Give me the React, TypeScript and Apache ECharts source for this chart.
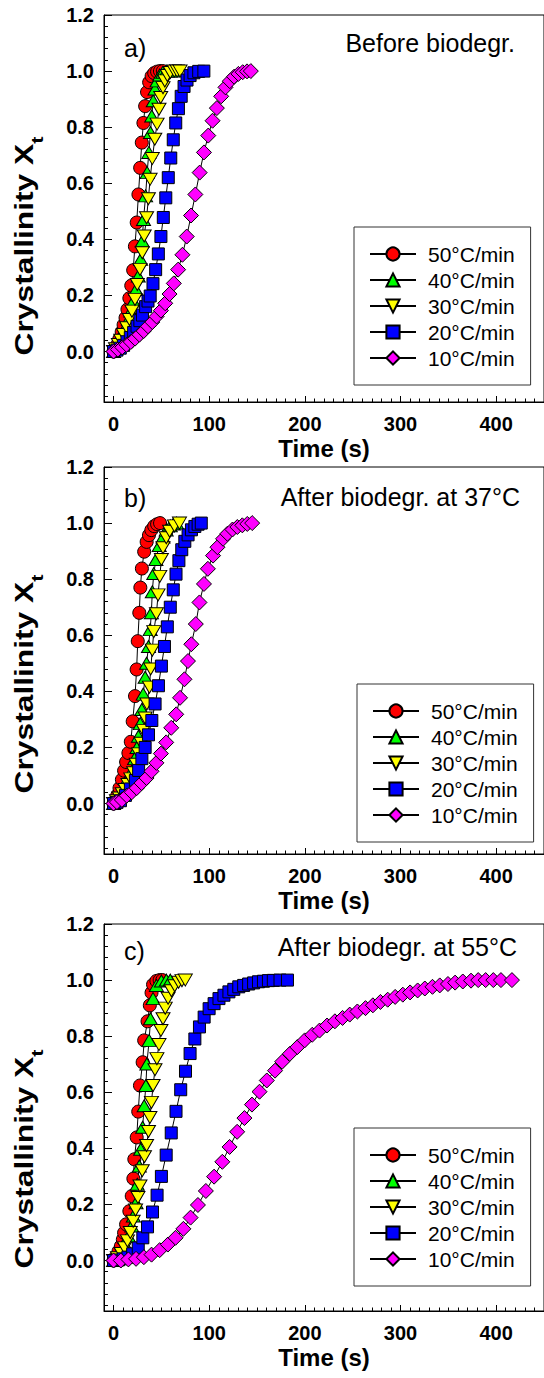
import React, { useEffect, useRef } from 'react';
import * as echarts from 'echarts';

const FONT = '"Liberation Sans", Arial, Helvetica, sans-serif';

// ---------- data ----------
const rateNames = ['50°C/min', '40°C/min', '30°C/min', '20°C/min', '10°C/min'];
const rateColors = ['#ff0000', '#00ff00', '#ffff00', '#0000ff', '#ff00ff'];
const xTickLabels = [0, 100, 200, 300, 400];
const yTickLabels = [0, 0.2, 0.4, 0.6, 0.8, 1.0, 1.2];
const panelLetters = ['a)', 'b)', 'c)'];
const panelNotes = ['Before biodegr.', 'After biodegr. at 37°C', 'After biodegr. at 55°C'];

// Panel a) before biodegradation  [time (s), Xt]
const a50 = [[0,0],[2,0.01],[4,0.025],[6,0.045],[8.5,0.07],[10.5,0.095],[12.5,0.12],[14.5,0.15],[16.5,0.19],[18.5,0.235],[20.5,0.29],[22.3,0.375],[24.2,0.46],[26,0.56],[27.8,0.655],[29.5,0.745],[31.2,0.815],[33,0.875],[35,0.925],[37.2,0.96],[39.8,0.982],[42.5,0.993],[45.5,0.998],[48.5,1.0],[51.5,1.0]];
const a40 = [[0,0],[2,0.008],[5,0.025],[8.5,0.06],[12,0.085],[15.5,0.114],[18,0.144],[20.7,0.18],[23.4,0.221],[25.8,0.269],[28.3,0.329],[30,0.394],[31.3,0.471],[33.5,0.555],[35.1,0.638],[36.9,0.71],[38.6,0.781],[39.9,0.84],[41.5,0.894],[43.3,0.936],[45.5,0.965],[48.2,0.986],[51.5,0.996],[55,1.0],[58.5,1.0],[62,1.0]];
const a30 = [[0,0],[2,0.01],[5,0.025],[7.5,0.04],[10.3,0.061],[13.8,0.085],[16.6,0.114],[19.2,0.144],[22.4,0.186],[24.8,0.239],[27.6,0.293],[30,0.352],[32,0.412],[34.5,0.477],[36.4,0.545],[38.2,0.614],[40.5,0.688],[43.1,0.757],[45.5,0.811],[47.5,0.864],[49.3,0.906],[51.7,0.941],[53.6,0.965],[56.2,0.984],[59.3,0.995],[63.5,1.0],[66.5,1.0],[69.5,1.0]];
const a20 = [[0,0],[3.5,0.005],[7,0.012],[10.5,0.022],[14,0.035],[17.5,0.05],[21,0.068],[24.5,0.09],[27.5,0.11],[30.2,0.13],[33.5,0.16],[36,0.18],[38.3,0.198],[41.2,0.242],[44,0.292],[46.8,0.348],[49.5,0.41],[52,0.478],[54.6,0.548],[57.2,0.62],[59.8,0.69],[62.4,0.755],[65,0.815],[67.8,0.866],[70.7,0.91],[73.7,0.945],[76.8,0.968],[80,0.984],[84,0.994],[89,0.999],[94.4,1.0]];
const a10 = [[0,0],[4.5,0.007],[9,0.015],[13.5,0.024],[18,0.034],[22.5,0.046],[27,0.06],[31.5,0.073],[36,0.09],[40.5,0.105],[45,0.125],[49.5,0.146],[54,0.172],[58.5,0.205],[63,0.243],[67.5,0.292],[72,0.345],[76.5,0.41],[81,0.485],[85.5,0.56],[90,0.638],[94.5,0.71],[99,0.77],[103.5,0.823],[108,0.868],[112.5,0.91],[117,0.942],[121.5,0.964],[126,0.98],[130.5,0.99],[135,0.996],[139.5,0.999],[143.5,1.0]];

// Panel b) after biodegradation at 37 °C
const b50 = [[0,0],[2,0.012],[4,0.03],[6.2,0.055],[8.7,0.085],[11,0.117],[13.1,0.148],[15.5,0.18],[18,0.22],[20,0.293],[22.4,0.383],[24.1,0.478],[25.3,0.579],[26.9,0.68],[28,0.77],[29.6,0.838],[32,0.898],[34.6,0.933],[37,0.957],[39.5,0.975],[42.5,0.989],[45.5,0.996],[48.6,1.0]];
const b40 = [[0,0],[2.5,0.01],[5,0.022],[8,0.04],[11,0.06],[14,0.085],[17,0.1],[19.3,0.118],[22,0.16],[24.5,0.2],[26,0.24],[27.9,0.285],[29.5,0.335],[31,0.39],[33,0.45],[34.5,0.5],[36.5,0.56],[38.3,0.62],[39.5,0.68],[40.5,0.755],[42,0.82],[44.3,0.87],[47.7,0.92],[51.7,0.95],[55,0.975],[59.3,0.99],[62.5,0.997],[65.9,1.0]];
const b30 = [[0,0],[3,0.01],[6,0.02],[9,0.035],[12,0.05],[15,0.068],[18,0.088],[21,0.11],[23.5,0.14],[26.2,0.177],[28.8,0.215],[31.4,0.26],[33,0.305],[34.8,0.355],[37.5,0.415],[38.8,0.48],[40.5,0.547],[42,0.613],[44.8,0.677],[46.5,0.744],[48.3,0.81],[50,0.87],[51.7,0.912],[55.1,0.948],[58.6,0.971],[63.7,0.99],[68.9,1.0]];
const b20 = [[0,0],[3.5,0.004],[7.2,0.01],[12.4,0.029],[17.6,0.052],[22.8,0.082],[26.2,0.118],[29.6,0.16],[33,0.2],[36.5,0.245],[40,0.296],[43.4,0.355],[46.9,0.42],[50,0.49],[53.2,0.56],[56.2,0.63],[59.3,0.7],[62.4,0.762],[65.3,0.818],[68.3,0.866],[71.3,0.905],[74.5,0.935],[77.9,0.958],[81.4,0.976],[85,0.988],[88.4,0.996],[91.7,1.0]];
const b10 = [[0,0],[3.5,0.005],[8.7,0.013],[13.8,0.028],[19,0.04],[24.2,0.055],[29.3,0.073],[34.5,0.091],[39.7,0.115],[44.8,0.145],[49.5,0.178],[55,0.218],[60.3,0.27],[65.5,0.318],[69.5,0.377],[74.1,0.443],[77.8,0.508],[81.3,0.568],[86,0.64],[89.8,0.717],[94.5,0.783],[98.6,0.837],[104,0.884],[108.6,0.914],[114.5,0.944],[119,0.962],[124.3,0.977],[129.4,0.986],[134.6,0.992],[139.8,0.997],[144.9,1.0]];

// Panel c) after biodegradation at 55 °C
const c50 = [[0,0],[2,0.012],[5.2,0.033],[7.6,0.051],[9.7,0.075],[11,0.099],[13.1,0.129],[16.5,0.176],[19,0.23],[20.7,0.292],[21.7,0.361],[24.2,0.439],[25.8,0.531],[27.6,0.624],[30.4,0.707],[32,0.785],[35.5,0.853],[37.9,0.91],[39.7,0.955],[41.3,0.984],[44.8,0.997],[48.2,1.0],[51,1.0]];
const c40 = [[0,0],[3.5,0.02],[8.7,0.033],[12.1,0.057],[15.5,0.087],[19,0.123],[20.7,0.159],[23.5,0.206],[24.8,0.272],[26.9,0.337],[28.3,0.397],[30.4,0.475],[32,0.552],[33.8,0.624],[34.8,0.701],[37.2,0.785],[38.6,0.862],[41.3,0.934],[44.8,0.981],[50,0.997],[55.2,1.0],[59.3,1.0]];
const c30 = [[0,0],[4,0.01],[8,0.025],[11.5,0.045],[14.5,0.07],[17.5,0.1],[20.5,0.14],[23,0.18],[25.5,0.225],[27.6,0.266],[30,0.32],[32.3,0.37],[34.5,0.41],[36.5,0.46],[38,0.51],[39.6,0.564],[41.3,0.624],[43.3,0.68],[45.3,0.72],[47.5,0.77],[49.5,0.82],[51.7,0.862],[54,0.9],[57,0.935],[60.5,0.962],[64,0.98],[68,0.992],[71.5,0.998],[75,1.0]];
const c20 = [[0,0],[5,0.002],[10,0.006],[15,0.012],[20,0.024],[25.8,0.045],[30.6,0.081],[35.5,0.12],[40.7,0.173],[45.5,0.233],[50,0.3],[55,0.376],[60.3,0.455],[65.3,0.532],[70.2,0.609],[75.2,0.675],[80,0.738],[85,0.79],[89.8,0.833],[94.7,0.868],[99.9,0.898],[105.1,0.916],[110.2,0.934],[115.4,0.946],[120.6,0.958],[125.7,0.967],[130.9,0.976],[136,0.981],[141.2,0.986],[146.4,0.99],[151.5,0.994],[156.7,0.996],[161.9,0.998],[167,0.999],[174,1.0],[181.8,1.0]];
const c10 = [[0,0],[7.6,0],[15.5,0.004],[23.5,0.006],[31.7,0.012],[39.7,0.021],[48.2,0.037],[56.8,0.057],[64.8,0.081],[73,0.113],[80.5,0.153],[88.2,0.198],[96.5,0.248],[105.1,0.299],[113.7,0.352],[121.3,0.405],[129.2,0.459],[136.8,0.508],[144.7,0.556],[152.6,0.602],[160.2,0.642],[168.8,0.677],[176.3,0.709],[184.3,0.737],[192.1,0.761],[199.8,0.785],[207.7,0.805],[215.3,0.82],[223.2,0.838],[231.4,0.853],[239.4,0.865],[246.9,0.877],[254.9,0.888],[263.4,0.9],[271.1,0.91],[279,0.922],[286.6,0.93],[294.4,0.94],[302.4,0.948],[310,0.956],[317.9,0.963],[325.4,0.97],[333.4,0.976],[341,0.981],[349.6,0.986],[357.1,0.991],[365.1,0.995],[373.7,0.998],[381.2,1.0],[389,1.0],[397,1.0],[405,1.0],[416.5,1.0]];

const panelData = [
  [a50, a40, a30, a20, a10],
  [b50, b40, b30, b20, b10],
  [c50, c40, c30, c20, c10],
];

// ---------- layout / style ----------
const GRID_LEFT = 104;
const GRID_WIDTH = 445;
const GRID_HEIGHT = 387;
const gridTops = [15, 467, 924];
const X_MIN = -10, X_MAX = 450;
const Y_MIN = -0.18, Y_MAX = 1.2;
const legendPos = [
  { left: 354, top: 227 },
  { left: 357, top: 684 },
  { left: 354, top: 1128 },
];
const yLabelCenters = [246, 684, 1159];
const letterY = [48, 498, 951];
const noteY = [43, 497, 947];
const noteRight = [515, 520, 517];

const symbols = [
  { symbol: 'circle', size: 13 },
  { symbol: 'triangle', size: [14, 12] },
  { symbol: 'path://M0,0L14,0L7,12Z', size: [14, 12] },
  { symbol: 'rect', size: 12 },
  { symbol: 'diamond', size: 15 },
];

function minorValues(start: number, end: number, step: number) {
  const out: number[] = [];
  for (let k = 0; start + k * step <= end + 1e-9; k++) {
    out.push(Math.round((start + k * step) * 1000) / 1000);
  }
  return out;
}

function buildOption() {
  const grid: any[] = [];
  const xAxis: any[] = [];
  const yAxis: any[] = [];
  const series: any[] = [];
  const legend: any[] = [];
  const graphic: any[] = [];
  const xMinor = minorValues(-10, 450, 10);
  const yMinor = minorValues(-0.16, 1.2, 0.04);

  gridTops.forEach((top, p) => {
    grid.push({
      left: GRID_LEFT, top, width: GRID_WIDTH, height: GRID_HEIGHT,
      show: true, borderColor: '#000', borderWidth: 1, backgroundColor: 'transparent',
    });
    xAxis.push({
      type: 'value', gridIndex: p, min: X_MIN, max: X_MAX, position: 'bottom',
      axisLine: { show: true, onZero: false, lineStyle: { color: '#000', width: 1 } },
      axisTick: { show: true, inside: true, length: 6, customValues: xTickLabels, lineStyle: { color: '#000' } },
      axisLabel: { show: true, customValues: xTickLabels, margin: 12, fontSize: 20, fontWeight: 'bold', fontFamily: FONT, color: '#000' },
      splitLine: { show: false },
      name: 'Time (s)', nameLocation: 'middle', nameGap: 34,
      nameTextStyle: { fontSize: 24, fontWeight: 'bold', fontFamily: FONT, color: '#000' },
    });
    xAxis.push({
      type: 'value', gridIndex: p, min: X_MIN, max: X_MAX, position: 'bottom',
      axisLine: { show: false, onZero: false },
      axisTick: { show: true, inside: true, length: 3.5, customValues: xMinor, lineStyle: { color: '#000' } },
      axisLabel: { show: false },
      splitLine: { show: false },
    });
    yAxis.push({
      type: 'value', gridIndex: p, min: Y_MIN, max: Y_MAX, position: 'left',
      axisLine: { show: true, onZero: false, lineStyle: { color: '#000', width: 1 } },
      axisTick: { show: true, inside: true, length: 8, customValues: yTickLabels, lineStyle: { color: '#000' } },
      axisLabel: {
        show: true, customValues: yTickLabels, margin: 10, fontSize: 20, fontWeight: 'bold', fontFamily: FONT, color: '#000',
        formatter: (v: number) => v.toFixed(1),
      },
      splitLine: { show: false },
    });
    yAxis.push({
      type: 'value', gridIndex: p, min: Y_MIN, max: Y_MAX, position: 'left',
      axisLine: { show: false, onZero: false },
      axisTick: { show: true, inside: true, length: 4, customValues: yMinor, lineStyle: { color: '#000' } },
      axisLabel: { show: false },
      splitLine: { show: false },
    });

    panelData[p].forEach((data, k) => {
      series.push({
        type: 'line', name: rateNames[k], xAxisIndex: 2 * p, yAxisIndex: 2 * p,
        data, symbol: symbols[k].symbol, symbolSize: symbols[k].size, showAllSymbol: true,
        lineStyle: { color: '#000', width: 1 },
        itemStyle: { color: rateColors[k], borderColor: '#000', borderWidth: 1 },
        emphasis: { disabled: true },
        z: 2,
      });
    });

    legend.push({
      orient: 'vertical', left: legendPos[p].left, top: legendPos[p].top,
      data: rateNames, selectedMode: false,
      itemWidth: 46, itemHeight: 16.5, itemGap: 4,
      padding: [16, 16, 16, 15],
      borderColor: '#333', borderWidth: 1, backgroundColor: 'transparent',
      textStyle: { fontSize: 21, fontFamily: FONT, color: '#000', lineHeight: 22, padding: [0, 0, 0, 7] },
    });

    graphic.push({
      type: 'text', x: 24.5, y: yLabelCenters[p], rotation: Math.PI / 2, scaleX: 1.27, silent: true,
      style: {
        text: '{m|Crystallinity X}{s|t}',
        align: 'center', verticalAlign: 'middle', fill: '#000',
        rich: {
          m: { fontSize: 25, fontWeight: 'bold', fontFamily: FONT, lineHeight: 41, fill: '#000' },
          s: { fontSize: 17, fontWeight: 'bold', fontFamily: FONT, verticalAlign: 'bottom', fill: '#000' },
        },
      },
    });
    graphic.push({
      type: 'text', x: 124, y: letterY[p], silent: true,
      style: { text: panelLetters[p], fontSize: 25, fontFamily: FONT, fill: '#000', align: 'left', verticalAlign: 'middle' },
    });
    graphic.push({
      type: 'text', x: noteRight[p], y: noteY[p], silent: true,
      style: { text: panelNotes[p], fontSize: 25, fontFamily: FONT, fill: '#000', align: 'right', verticalAlign: 'middle' },
    });
  });

  return {
    animation: false,
    backgroundColor: '#ffffff',
    grid, xAxis, yAxis, series, legend, graphic,
  };
}

export default function App() {
  const ref = useRef<HTMLDivElement>(null);
  useEffect(() => {
    if (!ref.current) return;
    const chart = echarts.init(ref.current, undefined, { renderer: 'svg' });
    chart.setOption(buildOption() as any);
    return () => chart.dispose();
  }, []);
  return (
    <div
      ref={ref}
      style={{ position: 'absolute', left: 0, top: 0, width: 544, height: 1378, overflow: 'hidden', background: '#fff' }}
    />
  );
}
